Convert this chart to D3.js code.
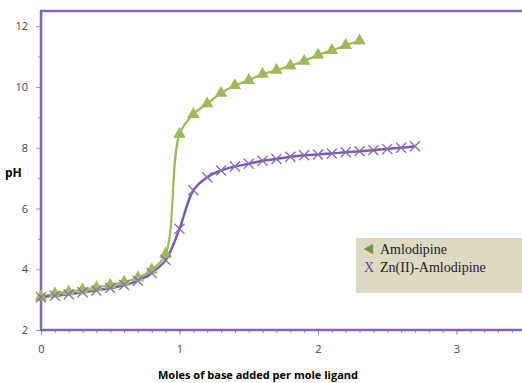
<!DOCTYPE html>
<html lang="en">
<head>
    <meta charset="UTF-8">
    <title>pH titration curves</title>
    <script src="https://d3js.org/d3.v7.min.js"></script>
    <style>
        body { margin: 0; background: #fff; }
        .tick text { font: 11px "Open Sans", sans-serif; fill: #404040; }
        .axis-title { font: bold 11px "Open Sans", sans-serif; fill: #000; }
        .legend text { font: 14px "Liberation Serif", serif; fill: #222; }
    </style>
</head>
<body>
<script>
// moles of base per mole ligand
const amloX  = [0, 0.1, 0.2, 0.3, 0.4, 0.5, 0.6, 0.7, 0.8, 0.9, 1.0, 1.1, 1.2, 1.3, 1.4, 1.5, 1.6, 1.7, 1.8, 1.9, 2.0, 2.1, 2.2, 2.3];
const amloPH = [3.1, 3.2, 3.26, 3.33, 3.4, 3.48, 3.58, 3.72, 3.98, 4.5, 8.45, 9.1, 9.45, 9.8, 10.05, 10.22, 10.42, 10.55, 10.7, 10.85, 11.05, 11.2, 11.37, 11.52];
const znX  = [0, 0.1, 0.2, 0.3, 0.4, 0.5, 0.6, 0.7, 0.8, 0.9, 1.0, 1.1, 1.2, 1.3, 1.4, 1.5, 1.6, 1.7, 1.8, 1.9, 2.0, 2.1, 2.2, 2.3, 2.4, 2.5, 2.6, 2.7];
const znPH = [3.08, 3.13, 3.18, 3.24, 3.3, 3.38, 3.48, 3.62, 3.88, 4.3, 5.33, 6.6, 7.03, 7.25, 7.38, 7.47, 7.57, 7.63, 7.7, 7.75, 7.78, 7.81, 7.85, 7.88, 7.92, 7.96, 8.0, 8.05];
const xTicks = [0, 1, 2, 3];
const yTicks = [2, 4, 6, 8, 10, 12];
const seriesNames = ["Amlodipine", "Zn(II)-Amlodipine"];

const W = 522, H = 383;
const margin = {top: 11, left: 41, bottom: 53};

const svg = d3.select("body").append("svg")
    .attr("width", W)
    .attr("height", H);

const x = d3.scaleLinear().domain([0, 3.5]).range([margin.left, margin.left + 3.5 * 138.5]);
const y = d3.scaleLinear().domain([2, 12.5]).range([H - margin.bottom, margin.top]);

const frameColor = "#8466ac";
const green = "#9bbb59";
const purple = "#7b5ca6";

// minor ticks
svg.append("g")
    .attr("transform", `translate(0,${y(2)})`)
    .call(d3.axisBottom(x).tickValues(d3.range(0, 35).map(i => i / 10)).tickSize(3).tickFormat(""))
    .call(g => g.select(".domain").remove())
    .call(g => g.selectAll("line").attr("stroke", "#999"));
svg.append("g")
    .attr("transform", `translate(${x(0)},0)`)
    .call(d3.axisLeft(y).tickValues([3, 5, 7, 9, 11]).tickSize(3).tickFormat(""))
    .call(g => g.select(".domain").remove())
    .call(g => g.selectAll("line").attr("stroke", "#999"));

// major axes
svg.append("g")
    .attr("transform", `translate(0,${y(2)})`)
    .call(d3.axisBottom(x).tickValues(xTicks).tickSize(5).tickPadding(10).tickFormat(d3.format("d")))
    .call(g => g.select(".domain").remove())
    .call(g => g.selectAll("line").attr("stroke", "#999"));
svg.append("g")
    .attr("transform", `translate(${x(0)},0)`)
    .call(d3.axisLeft(y).tickValues(yTicks).tickSize(5).tickPadding(8))
    .call(g => g.select(".domain").remove())
    .call(g => g.selectAll("line").attr("stroke", "#999"));

// plot frame
svg.append("rect")
    .attr("x", x(0))
    .attr("y", y(12.5))
    .attr("width", x(3.5) - x(0))
    .attr("height", y(2) - y(12.5))
    .attr("fill", "none")
    .attr("stroke", frameColor)
    .attr("stroke-width", 2.5);

// axis titles
svg.append("text").attr("class", "axis-title")
    .attr("x", 5).attr("y", y(7.05))
    .style("font-size", "12px")
    .text("pH");
svg.append("text").attr("class", "axis-title")
    .attr("x", 258).attr("y", 379)
    .attr("text-anchor", "middle")
    .text("Moles of base added per mole ligand");

const line = d3.line().curve(d3.curveCatmullRom.alpha(0.5));

const amlo = amloX.map((v, i) => [x(v), y(amloPH[i])]);
const zn = znX.map((v, i) => [x(v), y(znPH[i])]);

svg.append("path").attr("d", line(amlo))
    .attr("fill", "none").attr("stroke", green).attr("stroke-width", 2.2);
svg.append("path").attr("d", line(zn))
    .attr("fill", "none").attr("stroke", purple).attr("stroke-width", 2.5);

const tri = d3.symbol().type(d3.symbolTriangle).size(68);
svg.append("g").selectAll("path")
    .data(amlo)
    .join("path")
    .attr("d", tri)
    .attr("transform", d => `translate(${d[0]},${d[1]})`)
    .attr("fill", green);

svg.append("g").selectAll("path")
    .data(zn)
    .join("path")
    .attr("d", d => `M${d[0] - 5},${d[1] - 5}L${d[0] + 5},${d[1] + 5}M${d[0] - 5},${d[1] + 5}L${d[0] + 5},${d[1] - 5}`)
    .attr("stroke", "#8a6db8")
    .attr("stroke-width", 1.4)
    .attr("fill", "none");

// legend
const legend = svg.append("g").attr("class", "legend");
legend.append("rect")
    .attr("x", 356).attr("y", 238)
    .attr("width", 166).attr("height", 55)
    .attr("fill", "#ddd9c3");
legend.append("path")
    .attr("d", d3.symbol().type(d3.symbolTriangle).size(50))
    .attr("transform", "translate(370,249) rotate(-90)")
    .attr("fill", "#77933c");
legend.append("text")
    .attr("x", 380).attr("y", 254)
    .text(seriesNames[0]);
legend.append("text")
    .attr("x", 364).attr("y", 272)
    .style("fill", "#6a3fb0")
    .text("X");
legend.append("text")
    .attr("x", 380).attr("y", 272)
    .text(seriesNames[1]);
</script>
</body>
</html>
